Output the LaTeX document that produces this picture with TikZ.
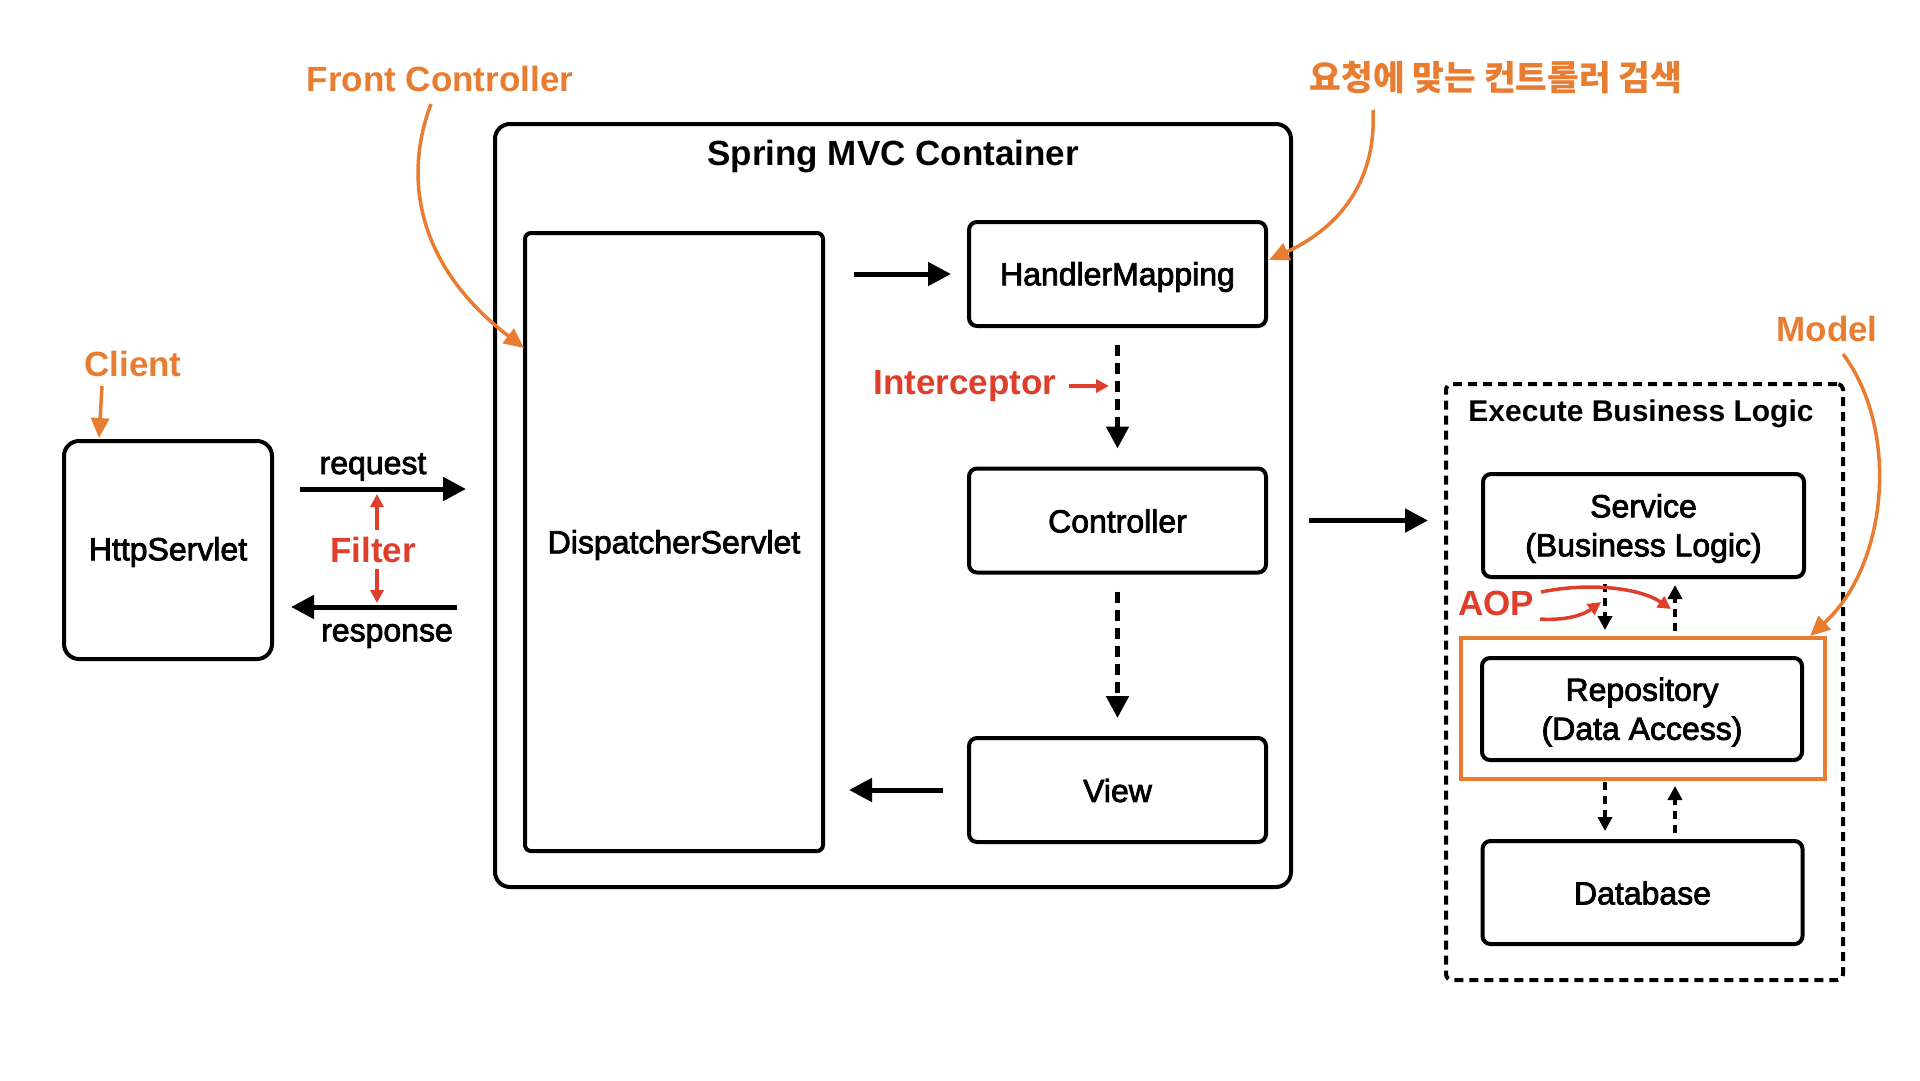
\documentclass[tikz,border=0pt]{standalone}
\usepackage{fontspec}
\setmainfont{Liberation Sans}
\newfontfamily\medfont{Liberation Sans}[FakeBold=2.5]
\newfontfamily\kr{Noto Sans CJK KR}
\usetikzlibrary{arrows.meta,calc}
\definecolor{org}{RGB}{232,125,50}
\definecolor{rd}{RGB}{222,62,42}
\begin{document}
\begin{tikzpicture}[x=1pt,y=-1pt,
  box/.style={draw,line width=4pt,rounded corners=8pt,minimum width=297pt,minimum height=104pt,inner sep=0pt},
  boxtext/.style={font=\medfont\fontsize{32}{39}\selectfont,align=center,yshift=-3pt},
  boxtextb/.style={boxtext,yshift=2.5pt},
  bigarrow/.style={line width=5pt,-{Triangle[length=23pt,width=23pt]}},
  dasharrow/.style={line width=5pt,dash pattern=on 11pt off 7pt,-{Triangle[length=22pt,width=22pt]}},
  smalldash/.style={line width=3.5pt,dash pattern=on 8pt off 6pt,-{Triangle[length=14pt,width=14pt]}},
  redarrow/.style={rd,line width=3.5pt,-{Triangle[length=13pt,width=13pt]}},
  orgarrow/.style={org,line width=3.5pt,-{Triangle[length=20pt,width=18pt]}},
  orglabel/.style={org,font=\bfseries\fontsize{35}{40}\selectfont},
  redlabel/.style={rd,font=\bfseries\fontsize{35}{40}\selectfont},
  small/.style={font=\medfont\fontsize{32}{36}\selectfont}
]
\useasboundingbox[fill=white] (0,0) rectangle (1920,1080);

% main boxes
\node[box,minimum width=208pt,minimum height=218pt,rounded corners=15pt,
  label={[boxtext,yshift=1pt]center:HttpServlet}] (http) at (168,550) {};
\node[draw,line width=4pt,rounded corners=15pt,minimum width=796pt,minimum height=763pt] (cont) at (893,505.5) {};
\node[font=\bfseries\fontsize{35}{40}\selectfont] (title) at (893,157) {Spring MVC Container};
\node[box,minimum width=298pt,minimum height=618pt,rounded corners=6pt,
  label={[boxtext]center:DispatcherServlet}] (disp) at (674,542) {};
\node[box,label={[boxtext]center:HandlerMapping}] (hm) at (1117.5,274) {};
\node[box,label={[boxtextb]center:Controller}] (ctrl) at (1117.5,520.5) {};
\node[box,label={[boxtextb]center:View}] (view) at (1117.5,790) {};

\node[draw,line width=4pt,dash pattern=on 9pt off 6pt,rounded corners=6pt,minimum width=397pt,minimum height=596pt] (biz) at (1644.5,682) {};
\node[font=\bfseries\fontsize{30}{36}\selectfont] (biztitle) at (1641,414) {Execute Business Logic};
\node[box,minimum width=321pt,minimum height=103pt,
  label={[boxtext]center:{Service\\(Business Logic)}}] (svc) at (1643.5,525.5) {};
\node[draw=org,line width=4pt,minimum width=364pt,minimum height=141pt] (model) at (1643,708.5) {};
\node[box,minimum width=320pt,minimum height=102pt,
  label={[boxtext]center:{Repository\\(Data Access)}}] (repo) at (1642,709) {};
\node[box,minimum width=320pt,minimum height=103pt,
  label={[boxtextb]center:Database}] (db) at (1642.5,892.5) {};

% request / response
\coordinate (reqS) at (300,489); \coordinate (reqE) at (466,489);
\coordinate (resS) at (457,607); \coordinate (resE) at (291,607);
\draw[bigarrow] (reqS) -- (reqE);
\draw[bigarrow] (resS) -- (resE);
\node[small] (req) at (373,467) {request};
\node[small] (res) at (387,636) {response};
\node[redlabel] (filter) at (373,550) {Filter};
\coordinate (fu1) at (377,530); \coordinate (fu2) at (377,494);
\coordinate (fd1) at (377,569); \coordinate (fd2) at (377,603);
\draw[redarrow] (fu1) -- (fu2);
\draw[redarrow] (fd1) -- (fd2);

% flow inside container
\draw[bigarrow] ($(disp.east |- hm)+(29,0)$) -- ($(hm.west)+(-16,0)$);
\draw[dasharrow] ($(hm.south)+(0,17)$) -- ($(ctrl.north)+(0,-18)$);
\draw[dasharrow] ($(ctrl.south)+(0,17)$) -- ($(view.north)+(0,-18)$);
\draw[bigarrow] ($(view.west)+(-24,0)$) -- ($(disp.east |- view)+(24,0)$);
\draw[bigarrow] ($(cont.east |- ctrl)+(16,0)$) -- ($(biz.west |- ctrl)+(-16,0)$);

\node[redlabel] (icp) at (965,386) {Interceptor};
\coordinate (ia) at (1069,386); \coordinate (ib) at (1109,386);
\draw[redarrow] (ia) -- (ib);

% business logic arrows
\draw[smalldash] ($(svc.south)+(-38.5,5)$) -- ($(model.north)+(-38,-6)$);
\draw[smalldash] ($(model.north)+(32,-5)$) -- ($(svc.south)+(31.5,6)$);
\draw[smalldash] ($(model.south)+(-38,1)$) -- ($(db.north)+(-37.5,-8)$);
\draw[smalldash] ($(db.north)+(32.5,-6)$) -- ($(model.south)+(32,5)$);

\node[redlabel] (aop) at (1496,603) {AOP};
\coordinate (a1s) at (1540,619); \coordinate (a1e) at (1601,602);
\coordinate (a2s) at (1541,592); \coordinate (a2e) at (1671,609);
\draw[redarrow] (a1s) .. controls (1570,621) and (1586,613) .. (a1e);
\draw[redarrow] (a2s) .. controls (1590,582) and (1640,588) .. (a2e);

% orange annotations
\node[orglabel] (client) at (133,364) {Client};
\coordinate (c1) at (102,386); \coordinate (c2) at (99,438);
\draw[orgarrow] (c1) -- (c2);

\node[orglabel] (front) at (440,79) {Front Controller};
\coordinate (f1) at (431,104); \coordinate (f2) at (524,348);
\draw[orgarrow] (f1) .. controls (405,172) and (412,262) .. (f2);

\node[org,font=\kr\bfseries\fontsize{34.5}{40}\selectfont] (search) at (1496,78) {요청에 맞는 컨트롤러 검색};
\coordinate (k1) at (1373,110); \coordinate (k2) at (1269,260);
\draw[orgarrow] (k1) .. controls (1377,190) and (1330,232) .. (k2);

\node[orglabel] (modellbl) at (1827,329) {Model};
\coordinate (m1) at (1843,354); \coordinate (m2) at (1810,636);
\draw[orgarrow] (m1) .. controls (1900,430) and (1888,565) .. (m2);
\end{tikzpicture}
\end{document}
